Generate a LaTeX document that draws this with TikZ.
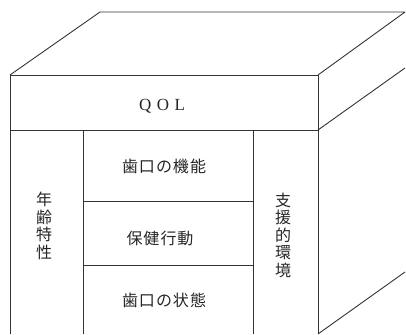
\documentclass[tikz,border=0pt]{standalone}
\usepackage{fontspec}
\setmainfont{Liberation Serif}
\newfontfamily\jp{Noto Sans CJK JP}
\begin{document}
\begin{tikzpicture}[x=1pt,y=-1pt,
  edge/.style={draw=black!80,line width=0.9pt,line join=round},
  jptext/.style={font=\jp\fontsize{16}{17.5}\selectfont,text=black!85,inner sep=0pt},
  vtext/.style={jptext,align=center}]
\useasboundingbox (0,0) rectangle (406,334);
% top face
\draw[edge] (10,75) -- (100,12) -- (405,12) -- (318,75);
% front face
\draw[edge] (10,334) -- (10,75) -- (318,75) -- (318,334);
\draw[edge] (10,130) -- (318,130);
% right face
\draw[edge] (318,130) -- (405,68);
\draw[edge] (318,334) -- (405,272);
% inner columns
\draw[edge] (83,130) -- (83,334);
\draw[edge] (253,130) -- (253,334);
\draw[edge] (83,201.5) -- (253,201.5);
\draw[edge] (83,265) -- (253,265);
% labels
\node[font=\fontsize{17}{19}\selectfont,text=black!85,inner sep=0pt] (qol) at (162,106) {Q\hspace{0.32em}O\hspace{0.32em}L};
\node[jptext] (kinou) at (164,166.5) {歯\hspace{1pt}口\hspace{1pt}の\hspace{1pt}機\hspace{1pt}能};
\node[jptext] (koudou) at (160,238) {保\hspace{1pt}健\hspace{1pt}行\hspace{1pt}動};
\node[jptext] (joutai) at (164,300) {歯\hspace{1pt}口\hspace{1pt}の\hspace{1pt}状\hspace{1pt}態};
\node[vtext] (nenrei) at (44,226) {年\\齢\\特\\性};
\node[vtext] (shien) at (283,235) {支\\援\\的\\環\\境};
\end{tikzpicture}
\end{document}
